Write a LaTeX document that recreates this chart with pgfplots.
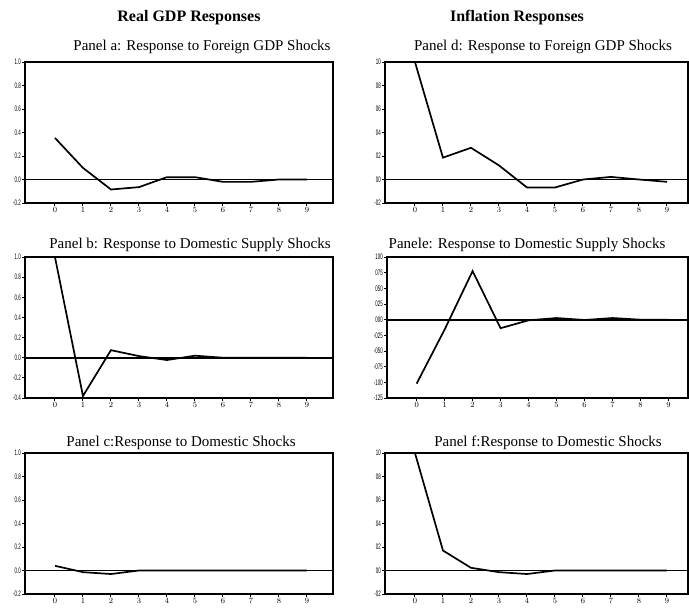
\documentclass[border=0pt]{standalone}
\usepackage{pgfplots}
\pgfplotsset{compat=1.18}
\usepackage{fontspec}
\setmainfont{Liberation Serif}
\newfontfamily\tickfont[FakeStretch=0.55]{Liberation Sans}
\pgfplotsset{
  irf/.style={
    scale only axis, height=141pt,
    axis line style={line width=1.6pt},
    tick align=outside, major tick length=3pt,
    ytick pos=left, xtick pos=bottom,
    xtick={0,...,9},
    tick style={black, line width=1pt},
    xticklabel style={inner sep=1pt, font=\tickfont\fontsize{8}{8}\selectfont},
    yticklabel style={inner sep=1pt, font=\tickfont\fontsize{8}{8}\selectfont},
    clip=false,
  },
}
\newcommand{\zeroline}{\draw[line width=1.8pt] ({rel axis cs:0,0}|-{axis cs:0,0}) -- ({rel axis cs:1,0}|-{axis cs:0,0});}
\begin{document}
\begin{tikzpicture}
\path[use as bounding box] (0,0) rectangle (689pt,-610pt);
\node[font=\bfseries\fontsize{16}{16}\selectfont] at (189pt,-18pt) {Real GDP Responses};
\node[font=\bfseries\fontsize{16}{16}\selectfont] at (517pt,-18pt) {Inflation Responses};
% Panel a
\node[font=\fontsize{15}{15}\selectfont] at (202pt,-47pt) {Panel a: Response to Foreign GDP Shocks};
\begin{axis}[irf, at={(25pt,-203pt)}, anchor=south west, width=308pt,
  xmin=-1.07, xmax=9.93, ymin=-0.2, ymax=1.0,
  ytick={-0.2,0,0.2,0.4,0.6,0.8,1.0}, yticklabels={-0.2,0.0,0.2,0.4,0.6,0.8,1.0}]
\zeroline
\addplot[black, line width=1.7pt, mark=none] coordinates {(0,0.354) (1,0.099) (2,-0.085) (3,-0.065) (4,0.02) (5,0.02) (6,-0.02) (7,-0.02) (8,0) (9,0)};
\end{axis}
% Panel d
\node[font=\fontsize{15}{15}\selectfont] at (543pt,-47pt) {Panel d: Response to Foreign GDP Shocks};
\begin{axis}[irf, at={(385pt,-203pt)}, anchor=south west, width=303pt,
  xmin=-1.07, xmax=9.75, ymin=-0.2, ymax=1.0,
  ytick={-0.2,0,0.2,0.4,0.6,0.8,1.0}, yticklabels={-02,00,02,04,06,08,10}]
\zeroline
\addplot[black, line width=1.7pt, mark=none] coordinates {(0,1.0) (1,0.186) (2,0.27) (3,0.12) (4,-0.068) (5,-0.068) (6,0) (7,0.022) (8,0) (9,-0.02)};
\end{axis}
% Panel b
\node[font=\fontsize{15}{15}\selectfont] at (190pt,-245pt) {Panel b: Response to Domestic Supply  Shocks};
\begin{axis}[irf, at={(25pt,-398pt)}, anchor=south west, width=308pt,
  xmin=-1.07, xmax=9.93, ymin=-0.4, ymax=1.0,
  ytick={-0.4,-0.2,0,0.2,0.4,0.6,0.8,1.0}, yticklabels={-0.4,-0.2,0.0,0.2,0.4,0.6,0.8,1.0}]
\zeroline
\addplot[black, line width=1.7pt, mark=none] coordinates {(0,1.0) (1,-0.38) (2,0.075) (3,0.016) (4,-0.023) (5,0.02) (6,0) (7,0) (8,0) (9,0)};
\end{axis}
% Panel e
\node[font=\fontsize{15}{15}\selectfont] at (527pt,-245pt) {Panele: Response to Domestic Supply  Shocks};
\begin{axis}[irf, at={(387pt,-398pt)}, anchor=south west, width=301pt,
  xmin=-1.06, xmax=9.7, ymin=-1.25, ymax=1.0,
  ytick={-1.25,-1,-0.75,-0.5,-0.25,0,0.25,0.5,0.75,1.0}, yticklabels={-125,-100,-075,-050,-025,000,025,050,075,100}]
\zeroline
\addplot[black, line width=1.7pt, mark=none] coordinates {(0,-1.02) (1,-0.157) (2,0.775) (3,-0.136) (4,-0.01) (5,0.026) (6,-0.005) (7,0.026) (8,0) (9,0)};
\end{axis}
% Panel c
\node[font=\fontsize{15}{15}\selectfont] at (181pt,-443pt) {Panel c:Response to Domestic Shocks};
\begin{axis}[irf, at={(25pt,-594pt)}, anchor=south west, width=308pt,
  xmin=-1.07, xmax=9.93, ymin=-0.2, ymax=1.0,
  ytick={-0.2,0,0.2,0.4,0.6,0.8,1.0}, yticklabels={-0.2,0.0,0.2,0.4,0.6,0.8,1.0}]
\zeroline
\addplot[black, line width=1.7pt, mark=none] coordinates {(0,0.04) (1,-0.014) (2,-0.03) (3,0) (4,0) (5,0) (6,0) (7,0) (8,0) (9,0)};
\end{axis}
% Panel f
\node[font=\fontsize{15}{15}\selectfont] at (548pt,-443pt) {Panel f:Response to Domestic Shocks};
\begin{axis}[irf, at={(385pt,-594pt)}, anchor=south west, width=303pt,
  xmin=-1.07, xmax=9.75, ymin=-0.2, ymax=1.0,
  ytick={-0.2,0,0.2,0.4,0.6,0.8,1.0}, yticklabels={-02,00,02,04,06,08,10}]
\zeroline
\addplot[black, line width=1.7pt, mark=none] coordinates {(0,1.0) (1,0.17) (2,0.023) (3,-0.014) (4,-0.03) (5,0) (6,0) (7,0) (8,0) (9,0)};
\end{axis}
\end{tikzpicture}
\end{document}
